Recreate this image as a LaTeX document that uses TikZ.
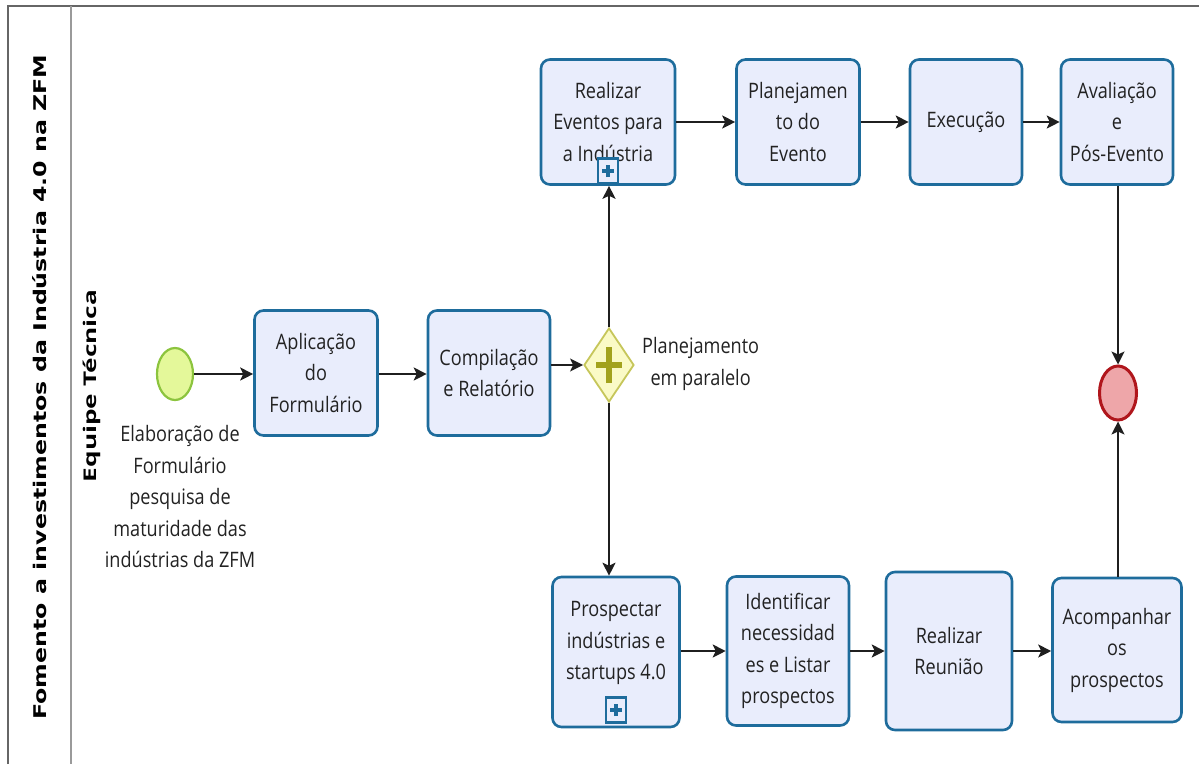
\documentclass[tikz,border=0pt]{standalone}
\usepackage{fontspec}
\setmainfont[FakeStretch=0.85]{Open Sans}
\newfontfamily\poolfont{DejaVu Sans}
\newfontfamily\lanefont{Open Sans}
\usetikzlibrary{shapes.geometric,arrows.meta}

\definecolor{taskfill}{HTML}{E9EDFC}
\definecolor{taskline}{HTML}{1E6C9C}
\definecolor{gwfill}{HTML}{FAFAC6}
\definecolor{gwline}{HTML}{C6C65A}
\definecolor{gwmark}{HTML}{A2A21C}
\definecolor{startfill}{HTML}{E4F89A}
\definecolor{startline}{HTML}{8CC43E}
\definecolor{endfill}{HTML}{EEA6A9}
\definecolor{endline}{HTML}{B0161C}
\definecolor{txt}{HTML}{222222}
\definecolor{poolline}{HTML}{666666}
\definecolor{laneline}{HTML}{9A9A9A}

\tikzset{
  task/.style={draw=taskline, fill=taskfill, line width=2.6pt,
    rounded corners=9pt, inner sep=0pt, text=txt, align=center,
    font={\fontsize{21.3}{31.5}\selectfont}},
  plaintext/.style={inner sep=0pt, text=txt, align=center,
    font={\fontsize{21.3}{31.5}\selectfont}},
  flow/.style={draw=black!88, line width=1.6pt,
    -{Stealth[length=13pt,width=13pt,inset=3pt]}},
  submark/.style={draw=taskline, fill=taskfill, line width=2.2pt,
    minimum width=20pt, minimum height=25pt, inner sep=0pt,
    path picture={
      \draw[taskline, line width=4.2pt]
        ([xshift=-6pt]path picture bounding box.center) --
        ([xshift=6pt]path picture bounding box.center)
        ([yshift=-6pt]path picture bounding box.center) --
        ([yshift=6pt]path picture bounding box.center);}},
  gateway/.style={diamond, draw=gwline, fill=gwfill, line width=1.8pt,
    minimum width=50pt, minimum height=74pt, inner sep=0pt,
    shape aspect=0.676,
    path picture={
      \draw[gwmark, line width=5.5pt]
        ([xshift=-13pt]path picture bounding box.center) --
        ([xshift=13pt]path picture bounding box.center)
        ([yshift=-18pt]path picture bounding box.center) --
        ([yshift=18pt]path picture bounding box.center);}},
  startev/.style={ellipse, draw=startline, fill=startfill, line width=2.2pt,
    minimum width=36pt, minimum height=52pt, inner sep=0pt},
  endev/.style={ellipse, draw=endline, fill=endfill, line width=3pt,
    minimum width=37pt, minimum height=54pt, inner sep=0pt},
}

\begin{document}
\begin{tikzpicture}[x=1pt, y=-1pt]
\useasboundingbox (0,0) rectangle (1199,764);

% pool and lane frame
\draw[poolline, line width=2pt] (8,764) -- (8,6) -- (1199,6);
\draw[laneline, line width=2pt] (71,6) -- (71,764);

\node[rotate=90, inner sep=0pt] (pool) at (40,387)
  {\resizebox{665pt}{\height}{\poolfont\bfseries\fontsize{17.5}{20}\selectfont Fomento a investimentos da Indústria 4.0 na ZFM}};
\node[rotate=90, inner sep=0pt] (lane) at (92,386)
  {\resizebox{192pt}{\height}{\lanefont\bfseries\fontsize{17.5}{20}\selectfont Equipe Técnica}};

% start event and its label
\node[startev] (start) at (175,374) {};
\node[plaintext] (startlbl) at (180,497)
  {Elaboração de\\Formulário\\pesquisa de\\maturidade das\\indústrias da ZFM};

% first tasks
\node[task, minimum width=123pt, minimum height=125pt] (apl) at (316,373)
  {Aplicação\\do\\Formulário};
\node[task, minimum width=122pt, minimum height=125pt] (comp) at (489,373)
  {Compilação\\e Relatório};

% parallel gateway
\node[gateway] (gw) at (609,365) {};
\node[plaintext, anchor=west] (gwlbl) at (642,364) {Planejamento\\em paralelo};

% upper branch
\node[task, minimum width=134pt, minimum height=125pt] (ev) at (608,122)
  {Realizar\\Eventos para\\a Indústria};
\node[submark] (evsub) at (608,171) {};
\node[task, minimum width=123pt, minimum height=125pt] (plan) at (798,122)
  {Planejamen\\to do\\Evento};
\node[task, minimum width=112pt, minimum height=125pt] (exec) at (966,122)
  {Execução};
\node[task, minimum width=112pt, minimum height=125pt] (aval) at (1117,122)
  {Avaliação\\e\\Pós-Evento};

% lower branch
\node[task, minimum width=127pt, minimum height=150pt] (prosp) at (616,652) {};
\node[plaintext] (prosptxt) at (616,643)
  {Prospectar\\indústrias e\\startups 4.0};
\node[submark] (prospsub) at (616,710) {};
\node[task, minimum width=122pt, minimum height=149pt] (ident) at (788,651)
  {Identificar\\necessidad\\es e Listar\\prospectos};
\node[task, minimum width=126pt, minimum height=158pt] (reun) at (949,651)
  {Realizar\\Reunião};
\node[task, minimum width=129pt, minimum height=144pt] (acomp) at (1117,650)
  {Acompanhar\\os\\prospectos};

% end event
\node[endev] (endev) at (1118,393) {};

% sequence flows
\draw[flow] (start.east) -- (start.east -| apl.west);
\draw[flow] (apl.east |- start.east) -- (comp.west |- start.east);
\draw[flow] (comp.east |- gw.west) -- (gw.west);
\draw[flow] (gw.north) -- (gw.north |- ev.south);
\draw[flow] (gw.south) -- (gw.south |- prosp.north);
\draw[flow] (ev.east) -- (plan.west);
\draw[flow] (plan.east) -- (exec.west);
\draw[flow] (exec.east) -- (aval.west);
\draw[flow] (aval.south -| endev.north) -- (endev.north);
\draw[flow] (acomp.north -| endev.south) -- (endev.south);
\draw[flow] (prosp.east |- ident.east) -- (ident.west);
\draw[flow] (ident.east) -- (reun.west);
\draw[flow] (reun.east) -- (acomp.west |- reun.east);
\end{tikzpicture}
\end{document}
